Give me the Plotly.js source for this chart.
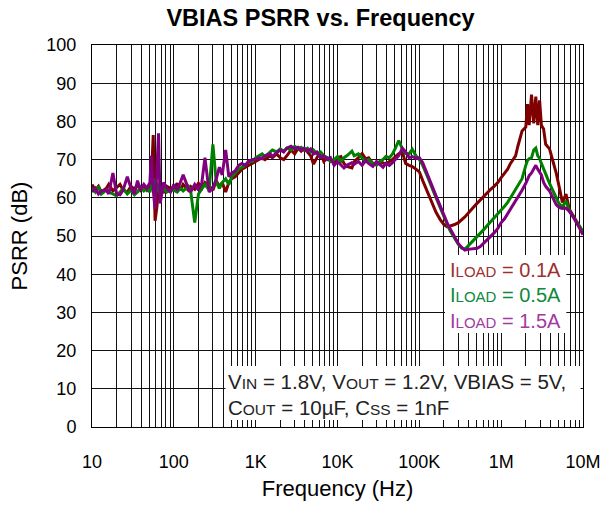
<!DOCTYPE html>
<html>
<head>
<meta charset="utf-8">
<script src="https://cdn.plot.ly/plotly-3.0.1.min.js"></script>
<style>
html,body{margin:0;padding:0;background:#fff;}
#chart{width:614px;height:509px;}
</style>
</head>
<body>
<div id="chart"></div>
<script>
// Frequency points (Hz), shared by all three sweeps
const freq = [
  10, 11, 12, 13, 15, 16, 18, 20, 22, 24, 27, 30, 33, 36, 39, 43, 47, 51, 53, 56, 59, 62, 65, 68, 75, 82, 91,
  100, 110, 120, 130, 150, 160, 180, 200, 220, 240, 270, 300, 330, 360, 390, 430, 470, 510, 560, 620, 680, 750, 820, 910,
  1000, 1100, 1200, 1300, 1500, 1600, 1800, 2000, 2200, 2400, 2700, 3000, 3300, 3600, 3900, 4300, 4700, 5100, 5600, 6200, 6800, 7500, 8200, 9100,
  10000, 11000, 12000, 13000, 15000, 16000, 18000, 20000, 22000, 24000, 27000, 30000, 33000, 36000, 39000, 43000, 47000, 51000, 56000, 62000, 68000, 75000, 82000, 91000,
  100000, 110000, 120000, 130000, 150000, 160000, 180000, 200000, 220000, 240000,
  270000, 300000, 330000, 360000, 390000, 430000, 470000, 510000, 560000, 620000,
  680000, 750000, 820000, 910000, 1000000, 1100000, 1200000, 1300000, 1500000, 1600000,
  1800000, 2000000, 2100000, 2200000, 2350000, 2500000, 2650000, 2800000, 2950000, 3100000,
  3300000, 3500000, 3900000, 4300000, 4700000, 5100000, 5600000, 6200000, 6800000, 7500000,
  8200000, 9100000, 10000000
];

// PSRR (dB), ILOAD = 0.1A
const psrr01 = [
  63.5, 62.0, 63.0, 61.5, 62.5, 63.5, 61.8, 62.8, 63.5, 62.0, 61.5, 63.0, 62.2, 63.5, 62.0, 63.2, 62.0, 63.0, 64.5, 76.4, 54.0, 57.5, 63.0, 62.0, 61.5, 63.0, 62.5,
  62.5, 63.8, 62.0, 63.5, 62.0, 63.0, 62.2, 63.8, 62.5, 64.0, 63.2, 62.0, 64.5, 63.0, 64.0, 61.5, 64.0, 65.0, 65.5, 66.5, 67.5, 68.0, 68.5, 69.0,
  69.5, 70.0, 70.5, 70.0, 71.0, 70.5, 71.5, 70.5, 70.0, 71.0, 72.5, 71.5, 73.0, 72.2, 72.8, 72.0, 71.0, 68.8, 70.5, 71.8, 69.5, 70.5, 70.0, 69.5,
  70.5, 70.8, 69.0, 68.2, 67.8, 69.5, 70.5, 71.6, 70.2, 70.5, 69.0, 68.6, 69.5, 69.2, 68.8, 69.5, 70.0, 70.8, 71.5, 72.0, 69.0, 68.5, 68.2, 67.5,
  66.8, 64.5, 62.5, 60.8, 57.5, 56.2, 54.3, 53.0, 52.4, 52.6,
  53.0, 53.5, 54.2, 55.0, 55.8, 57.0, 57.8, 58.6, 59.5, 60.6,
  61.4, 62.3, 63.0, 64.0, 65.3, 66.5, 67.5, 69.0, 71.0, 73.5,
  77.5, 78.5, 84.5, 79.0, 87.0, 79.5, 86.5, 79.0, 85.5, 79.0,
  78.0, 74.0, 72.8, 69.5, 66.5, 63.0, 58.8, 61.0, 57.0, 55.5,
  54.0, 52.5, 50.5
];

// PSRR (dB), ILOAD = 0.5A
const psrr05 = [
  62.5, 61.5, 63.0, 61.0, 62.0, 61.5, 61.0, 60.5, 61.5, 62.5, 61.0, 62.0, 60.8, 61.5, 62.8, 61.8, 62.5, 61.5, 63.0, 65.0, 60.0, 64.0, 62.0, 61.0, 62.5, 61.5, 62.0,
  62.0, 61.5, 62.5, 61.8, 63.0, 62.0, 53.5, 61.0, 62.5, 63.5, 62.0, 74.0, 64.0, 62.5, 64.0, 65.0, 63.5, 65.5, 66.5, 67.5, 68.0, 68.5, 69.5, 69.5,
  70.5, 71.0, 71.5, 70.8, 72.0, 72.5, 72.0, 72.8, 72.2, 73.0, 72.5, 73.5, 72.8, 73.2, 72.5, 73.0, 72.0, 72.5, 71.5, 72.0, 71.0, 70.5, 69.5, 70.0,
  70.8, 69.5, 70.5, 71.0, 72.2, 71.0, 71.5, 70.3, 69.5, 70.0, 69.0, 68.6, 69.5, 70.0, 70.8, 70.5, 71.5, 73.0, 75.0, 72.8, 71.6, 71.5, 72.7, 71.0,
  70.0, 68.5, 66.8, 64.8, 61.5, 60.0, 57.5, 55.2, 53.0, 51.2,
  49.2, 47.8, 46.8, 46.6, 47.3, 48.2, 49.0, 49.8, 50.8, 51.8,
  52.8, 53.8, 54.6, 55.7, 56.8, 57.8, 58.8, 60.0, 62.0, 63.0,
  65.0, 68.5, 69.8, 70.2, 70.5, 72.5, 73.0, 71.0, 70.3, 69.0,
  67.5, 66.0, 63.8, 61.8, 60.2, 58.5, 57.6, 59.2, 56.5, 55.0,
  54.0, 52.5, 51.2
];

// PSRR (dB), ILOAD = 1.5A
const psrr15 = [
  61.5, 62.5, 61.0, 61.8, 62.0, 61.0, 66.5, 61.0, 60.8, 62.0, 65.5, 62.5, 61.0, 64.5, 62.0, 63.5, 62.5, 64.0, 71.0, 62.0, 57.0, 70.0, 76.9, 58.5, 64.0, 62.5, 61.5,
  63.5, 62.0, 64.0, 66.0, 62.5, 61.5, 63.5, 62.0, 64.0, 70.5, 61.5, 62.5, 65.0, 68.0, 66.0, 72.5, 65.5, 66.5, 67.0, 68.5, 69.0, 68.5, 69.5, 70.0,
  70.0, 70.5, 70.2, 71.0, 71.5, 70.8, 71.8, 72.5, 72.0, 73.0, 73.5, 72.8, 73.2, 72.5, 73.0, 72.2, 72.8, 71.5, 72.0, 70.5, 71.0, 70.0, 70.5, 68.5,
  69.5, 68.5, 67.8, 68.5, 69.2, 68.8, 69.5, 68.5, 69.8, 69.0, 68.2, 69.5, 68.8, 68.0, 69.0, 68.5, 69.2, 70.0, 71.0, 73.0, 72.0, 70.5, 70.8, 70.3,
  70.5, 69.2, 67.3, 65.5, 62.0, 60.5, 57.8, 55.5, 53.3, 51.8,
  49.8, 48.0, 47.0, 46.3, 46.5, 46.6, 46.7, 46.8, 47.3, 48.2,
  49.0, 50.0, 50.8, 52.0, 53.5, 54.5, 55.8, 57.0, 59.0, 60.0,
  62.0, 63.8, 64.8, 65.8, 66.5, 67.5, 68.5, 67.5, 66.8, 66.0,
  64.0, 63.0, 61.8, 59.8, 58.2, 57.5, 57.2, 57.3, 56.5, 55.2,
  53.8, 52.0, 50.3
];

const xTickVals = [10, 100, 1000, 10000, 100000, 1000000, 10000000];
const xTickText = ['10', '100', '1K', '10K', '100K', '1M', '10M'];
const seriesNames = ['ILOAD = 0.1A', 'ILOAD = 0.5A', 'ILOAD = 1.5A'];
const loadValues = ['0.1A', '0.5A', '1.5A'];
const lineColors = ['#800000', '#008000', '#800080'];
const labelColors = ['#9e2f2f', '#10883c', '#a23aa2'];

// minor grid positions (2..9 in each decade)
const minorVals = [];
for (let d = 10; d < 1e7; d *= 10) {
  for (let k = 2; k <= 9; k++) minorVals.push(k * d);
}

const FONT = 'Liberation Sans, Arial, sans-serif';
const series = [psrr01, psrr05, psrr15];
const traces = series.map((ys, i) => ({
  type: 'scatter', mode: 'lines', x: freq, y: ys, name: seriesNames[i],
  line: {color: lineColors[i], width: 3}
}));

const small = (s, px) => '<span style="font-size:' + px + 'px">' + s + '</span>';
const legendY = [0.410, 0.345, 0.278];

const annotations = loadValues.map((v, i) => ({
  xref: 'paper', yref: 'paper', x: 0.726, y: legendY[i], xanchor: 'left', yanchor: 'middle',
  text: 'I' + small('LOAD', 15) + ' = ' + v, showarrow: false,
  font: {family: FONT, size: 20, color: labelColors[i]}
}));
annotations.push({
  xref: 'paper', yref: 'paper', x: 0.272, y: 0.120, xanchor: 'left', yanchor: 'middle', showarrow: false,
  text: 'V' + small('IN', 15.5) + ' = 1.8V, V' + small('OUT', 15.5) + ' = 1.2V, VBIAS = 5V,',
  font: {family: FONT, size: 20.5, color: '#222'}
});
annotations.push({
  xref: 'paper', yref: 'paper', x: 0.272, y: 0.052, xanchor: 'left', yanchor: 'middle', showarrow: false,
  text: 'C' + small('OUT', 15.5) + ' = 10µF, C' + small('SS', 15.5) + ' = 1nF',
  font: {family: FONT, size: 20.5, color: '#222'}
});

const layout = {
  width: 614, height: 509,
  margin: {l: 92, r: 31, t: 45, b: 82},
  paper_bgcolor: '#fff', plot_bgcolor: '#fff',
  showlegend: false,
  font: {family: FONT, color: '#000'},
  title: {
    text: '<b>VBIAS PSRR vs. Frequency</b>',
    font: {family: FONT, size: 23.5, color: '#000'},
    xref: 'container', yref: 'container', x: 0.522, xanchor: 'center', y: 0.966, yanchor: 'middle'
  },
  xaxis: {
    type: 'log', range: [1, 7],
    tickmode: 'array', tickvals: xTickVals, ticktext: xTickText,
    showgrid: true, gridcolor: '#111', gridwidth: 1,
    minor: {tickmode: 'array', tickvals: minorVals, showgrid: true, gridcolor: '#111', gridwidth: 1, ticks: ''},
    showline: true, linecolor: '#000', linewidth: 1, mirror: true,
    ticks: '', ticklabelstandoff: 18,
    tickfont: {family: FONT, size: 18, color: '#000'},
    zeroline: false,
    title: {text: 'Frequency (Hz)', font: {family: FONT, size: 22, color: '#000'}, standoff: 10}
  },
  yaxis: {
    range: [0, 100], dtick: 10, tick0: 0,
    showgrid: true, gridcolor: '#111', gridwidth: 1,
    showline: true, linecolor: '#000', linewidth: 1, mirror: true,
    ticks: '', ticklabelstandoff: 11,
    tickfont: {family: FONT, size: 18, color: '#000'},
    zeroline: false,
    title: {text: 'PSRR (dB)', font: {family: FONT, size: 22, color: '#000'}, standoff: 12}
  },
  shapes: [
    {type: 'rect', xref: 'paper', yref: 'paper', x0: 0.719, x1: 0.966, y0: 0.246, y1: 0.450,
     fillcolor: '#fff', line: {width: 0}, layer: 'above'},
    {type: 'rect', xref: 'paper', yref: 'paper', x0: 0.272, x1: 0.995, y0: 0.018, y1: 0.160,
     fillcolor: '#fff', line: {width: 0}, layer: 'above'}
  ],
  annotations: annotations
};

Plotly.newPlot('chart', traces, layout, {displayModeBar: false, staticPlot: true});
</script>
</body>
</html>
